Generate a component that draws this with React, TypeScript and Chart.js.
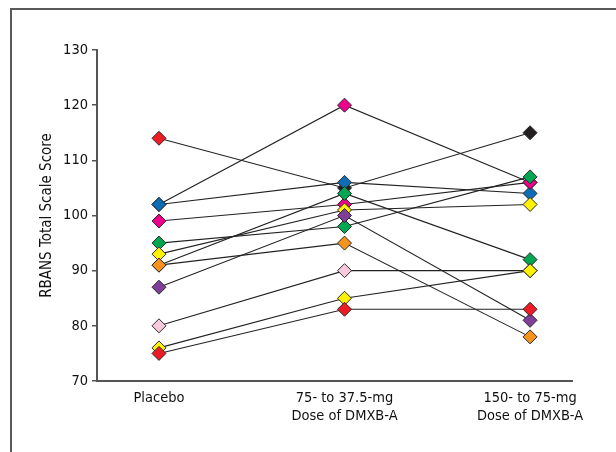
import React, { useEffect, useRef } from "react";
import { Chart, registerables } from "chart.js";

Chart.register(...registerables);

// Categories (x axis), multi-line labels
const categories: string[][] = [
  ["Placebo"],
  ["75- to 37.5-mg", "Dose of DMXB-A"],
  ["150- to 75-mg", "Dose of DMXB-A"],
];
const yTicks = [70, 80, 90, 100, 110, 120, 130];

// One entry per subject (12 subjects)
const placebo = [114, 102, 102, 99, 95, 93, 91, 91, 87, 80, 76, 75];
const midDose = [105, 120, 106, 102, 98, 101, 104, 95, 100, 90, 85, 83];
const highDose = [115, 106, 104, 106, 107, 102, 92, 78, 81, 90, 90, 83];

const RED = "#ED1C24";
const BLUE = "#0F6DB6";
const MAGENTA = "#EC008C";
const GREEN = "#00A651";
const YELLOW = "#FFF200";
const ORANGE = "#F7941D";
const PURPLE = "#7F3F98";
const PINK = "#F9CADD";
const BLACK = "#231F20";

const placeboColors = [RED, BLUE, BLUE, MAGENTA, GREEN, YELLOW, ORANGE, ORANGE, PURPLE, PINK, YELLOW, RED];
const midColors = [BLACK, MAGENTA, BLUE, MAGENTA, GREEN, YELLOW, GREEN, ORANGE, PURPLE, PINK, YELLOW, RED];
const highColors = [BLACK, MAGENTA, BLUE, MAGENTA, GREEN, YELLOW, GREEN, ORANGE, PURPLE, PINK, YELLOW, RED];

const FONT_FAMILY = "'Liberation Sans Narrow', 'DejaVu Sans Condensed', 'Arial Narrow', sans-serif";

export default function App() {
  const ref = useRef<HTMLCanvasElement | null>(null);

  useEffect(() => {
    if (!ref.current) return;
    const tickFont = { family: FONT_FAMILY, size: 14.5 };
    const titleFont = { family: FONT_FAMILY, size: 15 };
    const datasets = placebo.map((_, i) => ({
      data: [
        { x: 0, y: placebo[i] },
        { x: 1, y: midDose[i] },
        { x: 2, y: highDose[i] },
      ],
      borderColor: "#222222",
      borderWidth: 1.1,
      pointStyle: "rectRot" as const,
      pointRadius: 7,
      pointBorderWidth: 1,
      pointBorderColor: "#2a2a2a",
      pointBackgroundColor: [placeboColors[i], midColors[i], highColors[i]],
      tension: 0,
      fill: false,
      order: -i,
    }));

    const chart = new Chart(ref.current, {
      type: "line",
      data: { datasets },
      options: {
        animation: false,
        responsive: false,
        maintainAspectRatio: false,
        layout: { padding: { left: 38, top: 50, right: 44, bottom: 0 } },
        plugins: { legend: { display: false }, tooltip: { enabled: false } },
        scales: {
          x: {
            type: "linear",
            min: -0.334,
            max: 2.226,
            afterBuildTicks: (s: any) => {
              s.ticks = categories.map((_, i) => ({ value: i }));
            },
            afterFit: (s: any) => {
              s.height = 71;
            },
            ticks: {
              callback: (v: any) => categories[v as number],
              font: tickFont,
              color: "#111",
              padding: 9,
              maxRotation: 0,
              autoSkip: false,
            },
            grid: { display: true, drawOnChartArea: false, drawTicks: false },
            border: { display: true, color: "#555", width: 2 },
          },
          y: {
            type: "linear",
            min: 70,
            max: 130,
            afterBuildTicks: (s: any) => {
              s.ticks = yTicks.map((v) => ({ value: v }));
            },
            afterFit: (s: any) => {
              s.width = 59;
            },
            ticks: { font: tickFont, color: "#111", padding: 4 },
            grid: { drawOnChartArea: false, drawTicks: true, tickLength: 5, color: "#555", lineWidth: 1.5 },
            border: { display: true, color: "#555", width: 2 },
            title: {
              display: true,
              text: "RBANS Total Scale Score",
              font: titleFont,
              color: "#111",
              padding: 0,
            },
          },
        },
      },
    } as any);
    return () => chart.destroy();
  }, []);

  return (
    <div style={{ position: "fixed", left: 0, top: 0, width: 616, height: 452, background: "#fff", overflow: "hidden" }}>
      <div
        style={{
          position: "absolute",
          left: 10,
          top: 8,
          width: 800,
          height: 600,
          borderTop: "2px solid #5a5a5a",
          borderLeft: "2px solid #5a5a5a",
        }}
      />
      <canvas ref={ref} width={616} height={452} style={{ position: "absolute", left: 0, top: 0, width: 616, height: 452 }} />
    </div>
  );
}
